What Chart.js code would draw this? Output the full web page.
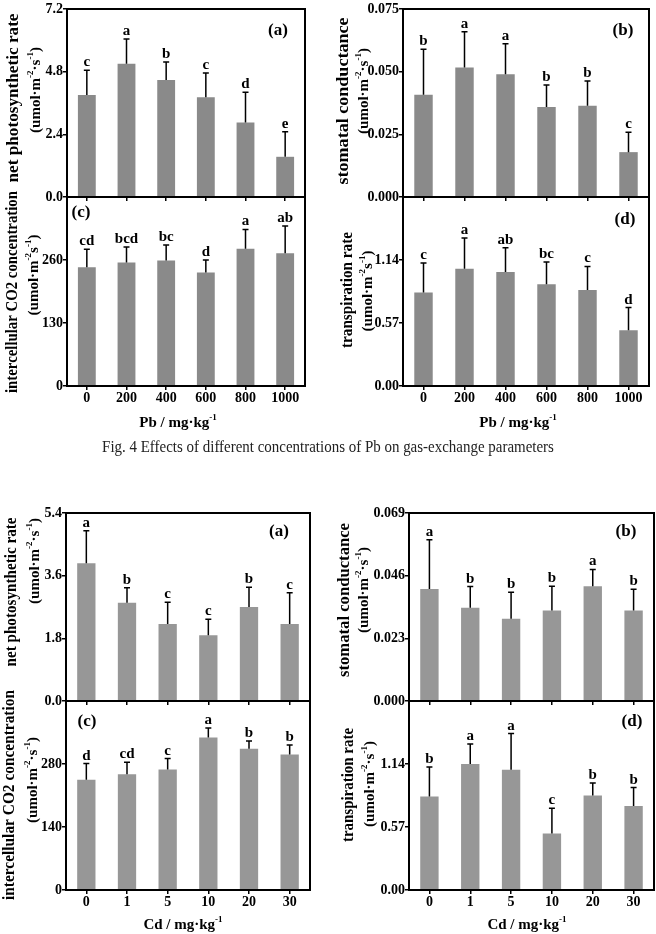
<!DOCTYPE html>
<html>
<head>
<meta charset="utf-8">
<script src="https://cdn.jsdelivr.net/npm/chart.js@4.4.1/dist/chart.umd.min.js"></script>
<style>
  body { margin: 0; background: #fff; }
  #page { position: relative; width: 656px; height: 934px; overflow: hidden; }
  canvas { position: absolute; left: 0; top: 0; }
  #cap { position: absolute; left: 0; top: 437px; width: 656px; text-align: center;
         font: 17px "Liberation Serif", serif; line-height: 20px; color: #222;
         transform: scaleX(0.88); transform-origin: 328px 0; }
</style>
</head>
<body>
<div id="page">
  <canvas id="p1" width="656" height="934"></canvas>
  <canvas id="p2" width="656" height="934"></canvas>
  <canvas id="p3" width="656" height="934"></canvas>
  <canvas id="p4" width="656" height="934"></canvas>
  <canvas id="p5" width="656" height="934"></canvas>
  <canvas id="p6" width="656" height="934"></canvas>
  <canvas id="p7" width="656" height="934"></canvas>
  <canvas id="p8" width="656" height="934"></canvas>
  <div id="cap">Fig. 4 Effects of different concentrations of Pb on gas-exchange parameters</div>
</div>
<script>
// treatment levels
const pbLevels = ['0', '200', '400', '600', '800', '1000'];
const cdLevels = ['0', '1', '5', '10', '20', '30'];

// Pb: means, SD, significance letters
const pbPn = [3.91, 5.10, 4.48, 3.82, 2.85, 1.54];
const pbPnSd = [0.94, 0.95, 0.69, 0.93, 1.16, 0.96];
const pbPnSig = ['c', 'a', 'b', 'c', 'd', 'e'];
const pbGs = [0.0408, 0.0517, 0.0490, 0.0359, 0.0364, 0.0179];
const pbGsSd = [0.0181, 0.0142, 0.0121, 0.0088, 0.0099, 0.0079];
const pbGsSig = ['b', 'a', 'a', 'b', 'b', 'c'];
const pbCi = [245, 255, 259, 234, 283, 274];
const pbCiSd = [37, 32, 32, 26, 40, 56];
const pbCiSig = ['cd', 'bcd', 'bc', 'd', 'a', 'ab'];
const pbTr = [0.845, 1.061, 1.031, 0.920, 0.869, 0.505];
const pbTrSd = [0.268, 0.277, 0.220, 0.202, 0.213, 0.205];
const pbTrSig = ['c', 'a', 'ab', 'bc', 'c', 'd'];

// Cd
const cdPn = [3.96, 2.82, 2.21, 1.89, 2.70, 2.21];
const cdPnSd = [0.93, 0.43, 0.63, 0.46, 0.57, 0.90];
const cdPnSig = ['a', 'b', 'c', 'c', 'b', 'c'];
const cdGs = [0.0411, 0.0342, 0.0302, 0.0332, 0.0421, 0.0332];
const cdGsSd = [0.0181, 0.0078, 0.0097, 0.0089, 0.0062, 0.0078];
const cdGsSig = ['a', 'b', 'b', 'b', 'a', 'b'];
const cdCi = [245, 257, 268, 339, 314, 301];
const cdCiSd = [36, 27, 24, 21, 17, 21];
const cdCiSig = ['d', 'cd', 'c', 'a', 'b', 'b'];
const cdTr = [0.846, 1.140, 1.089, 0.512, 0.855, 0.759];
const cdTrSd = [0.267, 0.180, 0.326, 0.227, 0.114, 0.168];
const cdTrSig = ['b', 'a', 'a', 'c', 'b', 'b'];

// y tick values
const pbPnTicks = [0, 2.4, 4.8, 7.2];
const pbGsTicks = [0, 0.025, 0.05, 0.075];
const pbCiTicks = [0, 130, 260, 390];
const cdPnTicks = [0, 1.8, 3.6, 5.4];
const cdGsTicks = [0, 0.023, 0.046, 0.069];
const cdCiTicks = [0, 140, 280, 420];
const trTicks = [0, 0.57, 1.14, 1.71];

const FONT = '"Liberation Serif", serif';
const PB = '#8a8a8a', CD = '#979797';

const panels = [
  { id: 'p1', labels: pbLevels, mean: pbPn, sd: pbPnSd, sig: pbPnSig, ticks: pbPnTicks, dec: 1, color: PB,
    area: [67, 9, 305, 197], tag: '(a)', tagAt: [278, 31],
    title: ['net photosynthetic rate', '(umol·m^{-2}·s^{-1})'], tx: [14, 36], ty: [98, 90], tlen: 169 },
  { id: 'p2', labels: pbLevels, mean: pbGs, sd: pbGsSd, sig: pbGsSig, ticks: pbGsTicks, dec: 3, color: PB,
    area: [403, 9, 649, 197], tag: '(b)', tagAt: [623, 31],
    title: ['stomatal conductance', '(umol·m^{-2}·s^{-1})'], tx: [344, 364], ty: [101, 91], tlen: 167 },
  { id: 'p3', labels: pbLevels, mean: pbCi, sd: pbCiSd, sig: pbCiSig, ticks: pbCiTicks, dec: 0, color: PB,
    area: [67, 197, 305, 386], tag: '(c)', tagAt: [81, 213], hideTop: true,
    title: ['intercellular CO2 concentration', '(umol·m^{-2}s^{-1})'], tx: [13, 34], ty: [292, 275], tlen: 202,
    xTitle: 'Pb / mg·kg^{-1}', xAt: [178, 423] },
  { id: 'p4', labels: pbLevels, mean: pbTr, sd: pbTrSd, sig: pbTrSig, ticks: trTicks, dec: 2, color: PB,
    area: [403, 197, 649, 386], tag: '(d)', tagAt: [625, 220], hideTop: true,
    title: ['transpiration rate', '(umol·m^{-2}s^{-1})'], tx: [348, 368], ty: [290, 291], tlen: 116,
    xTitle: 'Pb / mg·kg^{-1}', xAt: [518, 423] },
  { id: 'p5', labels: cdLevels, mean: cdPn, sd: cdPnSd, sig: cdPnSig, ticks: cdPnTicks, dec: 1, color: CD,
    area: [66, 513, 310, 701], tag: '(a)', tagAt: [279, 532],
    title: ['net photosynthetic rate', '(umol·m^{-2}·s^{-1})'], tx: [12, 35], ty: [592, 561], tlen: 149 },
  { id: 'p6', labels: cdLevels, mean: cdGs, sd: cdGsSd, sig: cdGsSig, ticks: cdGsTicks, dec: 3, color: CD,
    area: [409, 513, 654, 701], tag: '(b)', tagAt: [626, 532],
    title: ['stomatal conductance', '(umol·m^{-2}·s^{-1})'], tx: [345, 364], ty: [600, 590], tlen: 154 },
  { id: 'p7', labels: cdLevels, mean: cdCi, sd: cdCiSd, sig: cdCiSig, ticks: cdCiTicks, dec: 0, color: CD,
    area: [66, 701, 310, 890], tag: '(c)', tagAt: [87, 722], hideTop: true,
    title: ['intercellular CO2 concentration', '(umol·m^{-2}·s^{-1})'], tx: [10, 33], ty: [795, 780], tlen: 210,
    xTitle: 'Cd / mg·kg^{-1}', xAt: [183, 925] },
  { id: 'p8', labels: cdLevels, mean: cdTr, sd: cdTrSd, sig: cdTrSig, ticks: trTicks, dec: 2, color: CD,
    area: [409, 701, 654, 890], tag: '(d)', tagAt: [632, 722], hideTop: true,
    title: ['transpiration rate', '(umol·m^{-2}·s^{-1})'], tx: [349, 370], ty: [785, 784], tlen: 114,
    xTitle: 'Cd / mg·kg^{-1}', xAt: [527, 925] },
];

// text with ^{..} superscripts, optionally rotated and stretched to a length
function rich(ctx, str, x, y, size, rot, len) {
  const parts = str.split(/(\^\{[^}]*\})/).filter(Boolean)
    .map(s => s[0] === '^' ? { t: s.slice(2, -1), sup: true } : { t: s, sup: false });
  const big = `bold ${size}px ${FONT}`;
  const small = `bold ${Math.round(size * 0.62)}px ${FONT}`;
  let w = 0;
  parts.forEach(p => { ctx.font = p.sup ? small : big; p.w = ctx.measureText(p.t).width; w += p.w; });
  ctx.save();
  ctx.translate(x, y);
  if (rot) ctx.rotate(-Math.PI / 2);
  if (len) ctx.scale(len / w, 1);
  ctx.textAlign = 'left';
  ctx.textBaseline = 'middle';
  ctx.fillStyle = '#000';
  let cx = -w / 2;
  parts.forEach(p => {
    ctx.font = p.sup ? small : big;
    ctx.fillText(p.t, cx, p.sup ? -size * 0.38 : 0);
    cx += p.w;
  });
  ctx.restore();
}

function deco(p) {
  return {
    id: 'deco',
    afterDraw(chart) {
      const { ctx, chartArea: a } = chart;
      const y = chart.scales.y;
      const bars = chart.getDatasetMeta(0).data;
      ctx.save();
      ctx.strokeStyle = '#000';
      ctx.lineWidth = 2;
      ctx.strokeRect(a.left, a.top, a.right - a.left, a.bottom - a.top);

      ctx.lineWidth = 1.5;
      ctx.fillStyle = '#000';
      ctx.font = `bold 15px ${FONT}`;
      ctx.textAlign = 'center';
      ctx.textBaseline = 'alphabetic';
      bars.forEach((b, i) => {
        const top = y.getPixelForValue(p.mean[i] + p.sd[i]);
        ctx.beginPath();
        ctx.moveTo(b.x, b.y);
        ctx.lineTo(b.x, top);
        ctx.moveTo(b.x - 3, top);
        ctx.lineTo(b.x + 3, top);
        ctx.stroke();
        ctx.fillText(p.sig[i], b.x, top - 4);
      });

      ctx.font = `bold 17px ${FONT}`;
      ctx.textBaseline = 'middle';
      ctx.fillText(p.tag, p.tagAt[0], p.tagAt[1]);
      ctx.restore();

      rich(ctx, p.title[0], p.tx[0], p.ty[0], 16, true, p.tlen);
      rich(ctx, p.title[1], p.tx[1], p.ty[1], 15, true);
      if (p.xTitle) rich(ctx, p.xTitle, p.xAt[0], p.xAt[1], 15, false);
    }
  };
}

Chart.defaults.font.family = FONT;
Chart.defaults.color = '#000';

panels.forEach(p => {
  const [L, T, R, B] = p.area;
  const tickFont = { family: FONT, size: 14, weight: 'bold' };
  new Chart(document.getElementById(p.id), {
    type: 'bar',
    data: {
      labels: p.labels,
      datasets: [{ data: p.mean, backgroundColor: p.color, barPercentage: 0.45, categoryPercentage: 1 }]
    },
    options: {
      responsive: false,
      animation: false,
      events: [],
      layout: { padding: { left: 0, top: T, right: 656 - R, bottom: 0 } },
      plugins: { legend: { display: false }, tooltip: { enabled: false } },
      scales: {
        x: {
          afterFit: s => { s.height = 934 - B; },
          border: { display: false },
          grid: { offset: false, drawOnChartArea: false, color: '#000', lineWidth: 1.5, tickLength: 4 },
          ticks: { display: !!p.xTitle, font: tickFont, color: '#000', padding: 0, maxRotation: 0 }
        },
        y: {
          min: p.ticks[0],
          max: p.ticks[p.ticks.length - 1],
          afterFit: s => { s.width = L; },
          afterBuildTicks: s => { s.ticks = p.ticks.map(v => ({ value: v })); },
          border: { display: false },
          grid: { drawOnChartArea: false, color: '#000', lineWidth: 1.5, tickLength: 4 },
          ticks: {
            font: tickFont, color: '#000', padding: 0,
            callback: (v, i) => (p.hideTop && i === p.ticks.length - 1) ? null : Number(v).toFixed(p.dec)
          }
        }
      }
    },
    plugins: [deco(p)]
  });
});
</script>
</body>
</html>
